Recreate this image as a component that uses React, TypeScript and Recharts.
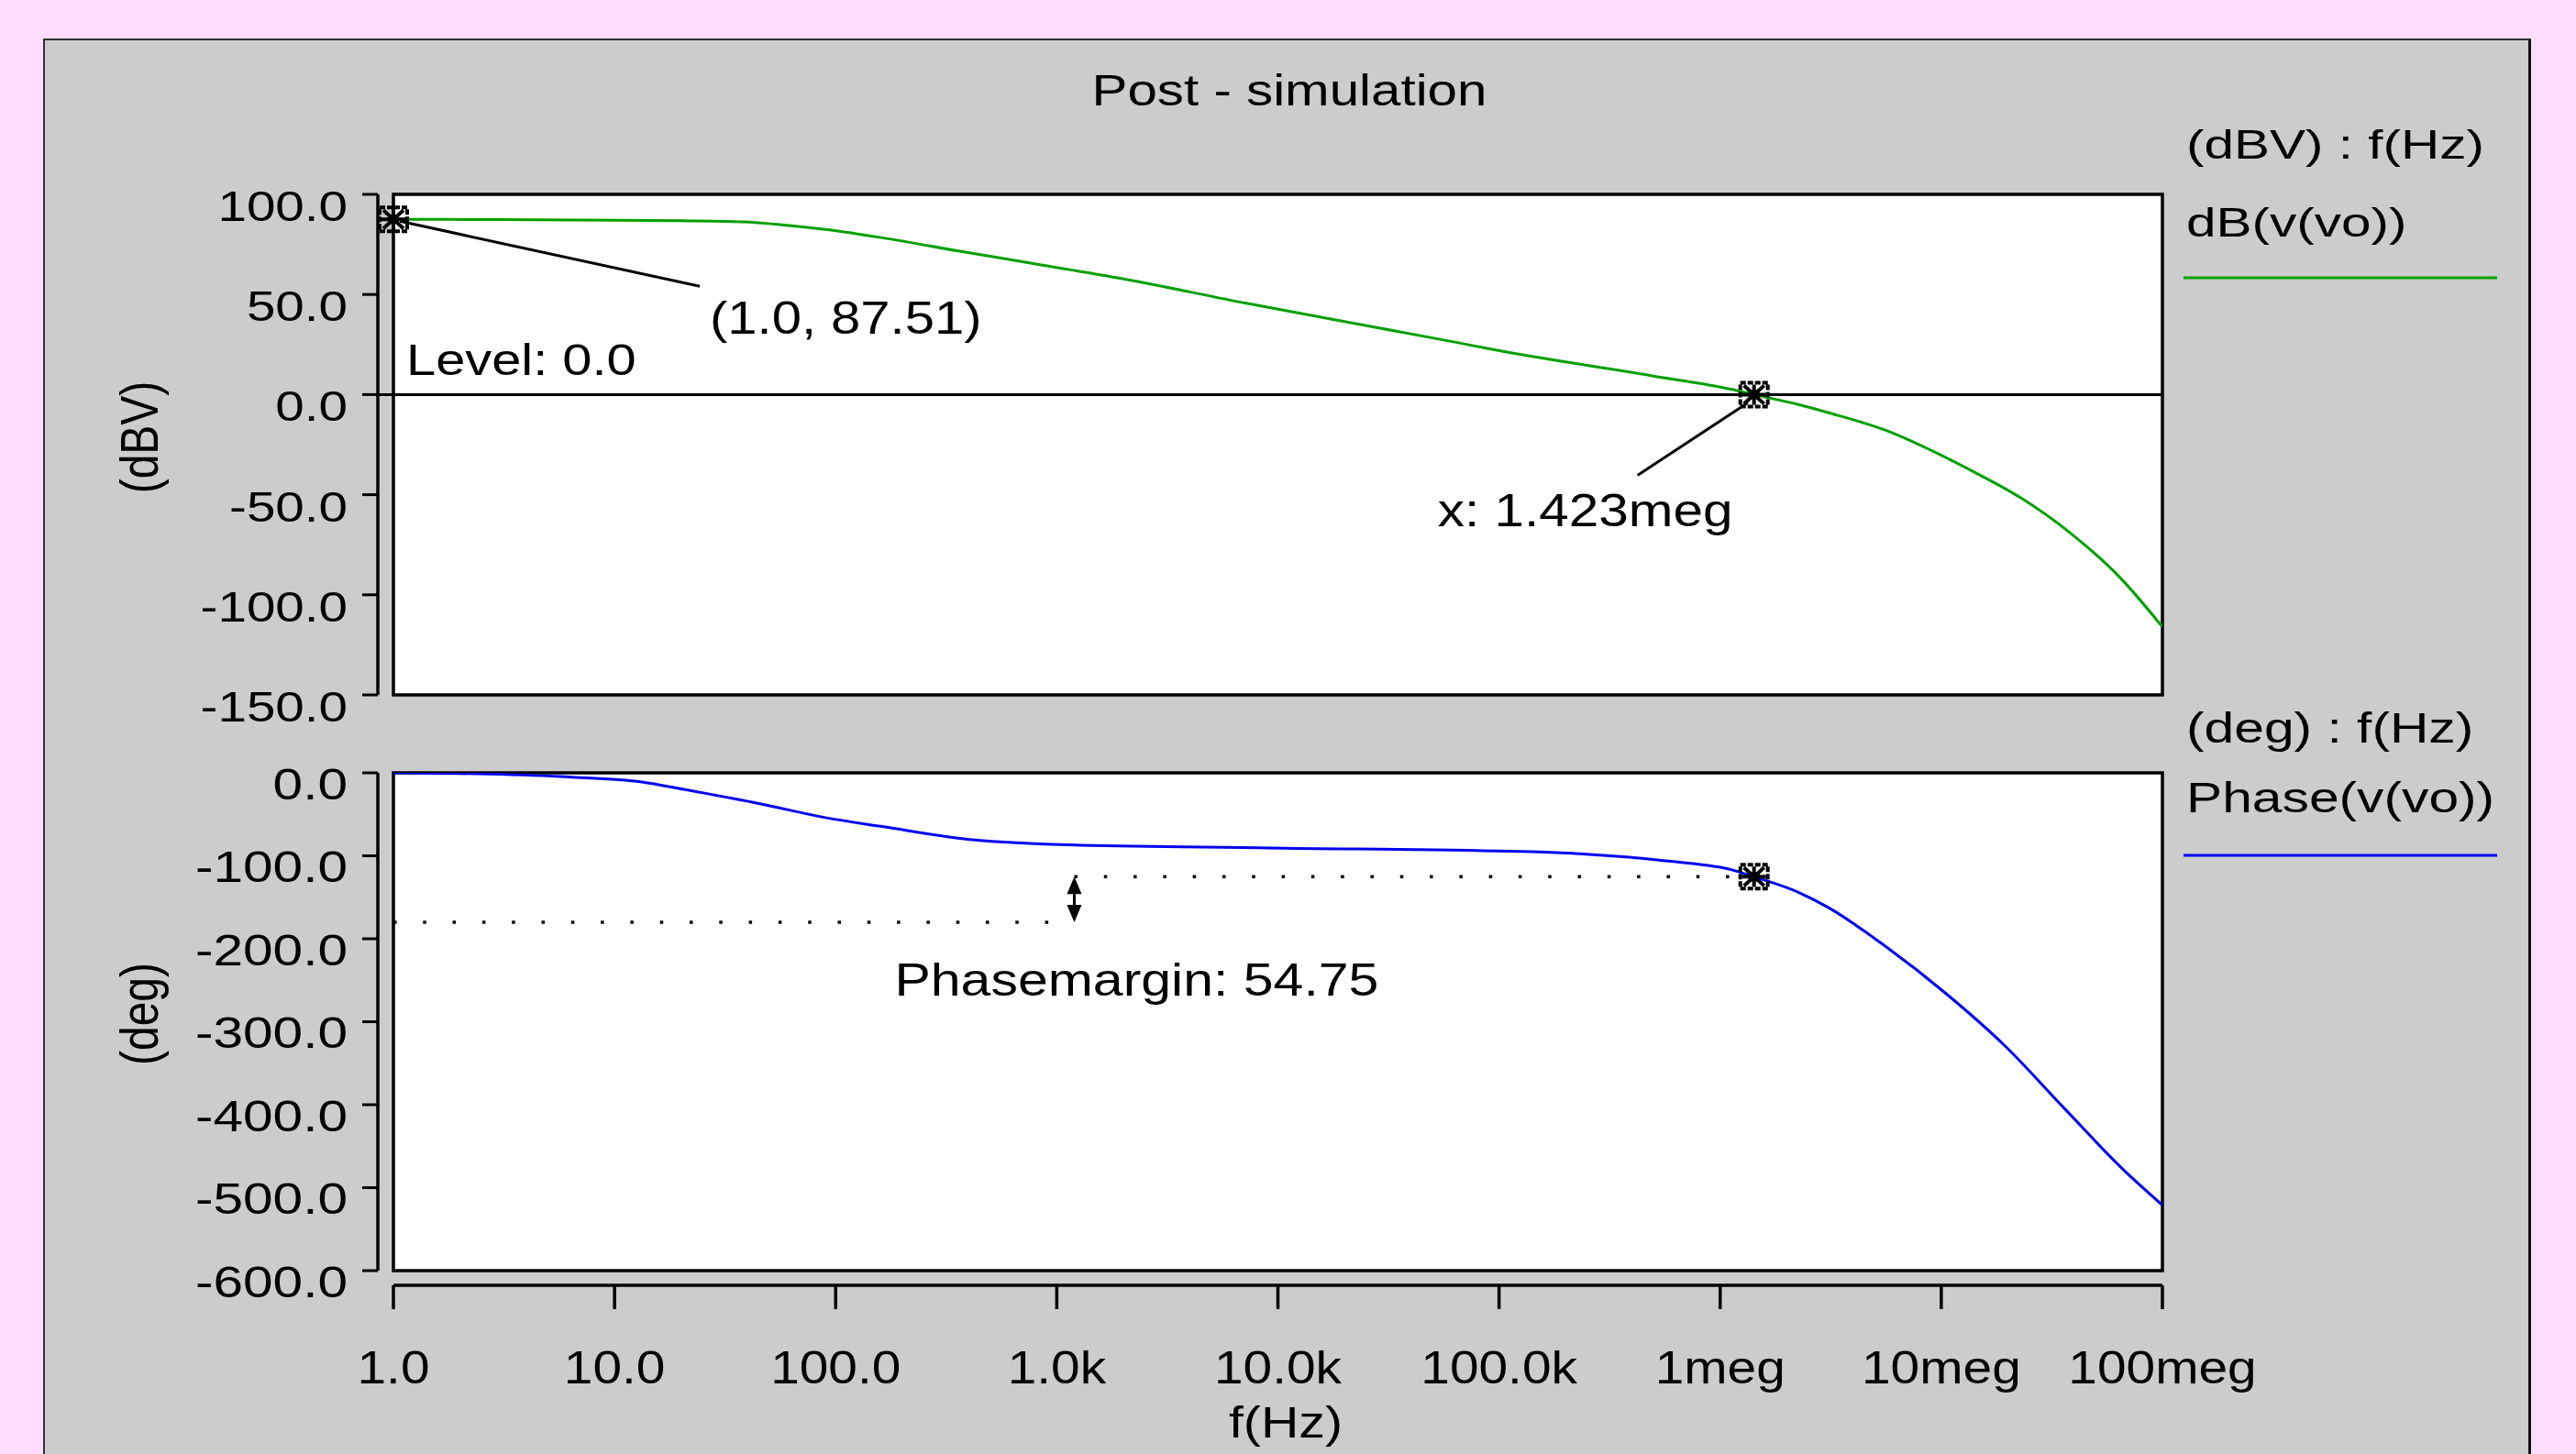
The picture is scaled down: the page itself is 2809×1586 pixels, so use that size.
import React from 'react';
import { LineChart, Line, XAxis, YAxis, ReferenceArea, ReferenceLine, ReferenceDot } from 'recharts';

const FONT = '"Liberation Sans", Arial, Helvetica, sans-serif';

// ---- data ----
const magFreq = [1, 3, 10, 20, 38, 60, 90, 165, 365, 805, 1909, 7197, 64700, 92900, 486000, 1130000, 1423000, 2260000, 3070000, 5650000, 10500000, 13700000, 22900000, 38200000, 63800000, 100000000];
const magDb = [87.51, 87.4, 87.1, 86.8, 86.3, 84.6, 82.5, 78.2, 71.6, 65.2, 58.2, 45.6, 26.0, 22.6, 9.5, 2.6, 0, -5.0, -9.0, -18, -31.5, -38, -51.6, -69, -91, -116];

const phaseFreq = [1, 2.7, 6.2, 13.3, 20.6, 45, 90, 165, 365, 1026, 9200, 127000, 247000, 615000, 1130000, 1423000, 2260000, 3070000, 5650000, 10500000, 19400000, 35900000, 66400000, 100000000];
const phaseDeg = [0, -1.5, -5, -11, -20, -37, -54, -65, -79, -86.5, -90.5, -94.8, -98, -107, -117, -125.25, -144, -162, -210, -266, -329, -404, -478, -521];

const xTicks = [1, 10, 100, 1e3, 1e4, 1e5, 1e6, 1e7, 1e8];
const xTickLabels = ['1.0', '10.0', '100.0', '1.0k', '10.0k', '100.0k', '1meg', '10meg', '100meg'];
const magTicks = [100, 50, 0, -50, -100, -150];
const phaseTicks = [0, -100, -200, -300, -400, -500, -600];

const startFreq = 1;
const dcGain = 87.51;
const levelDb = 0;
const unityFreq = 1423000;
const unityLabel = '1.423meg';
const unityPhase = -125.25;
const phaseMargin = 54.75;
const criticalPhase = -180;
const pmArrowFreq = 1200;

const magData = magFreq.map((f, i) => ({ f, db: magDb[i] }));
const phaseData = phaseFreq.map((f, i) => ({ f, deg: phaseDeg[i] }));

const GREEN = '#00A000';
const BLUE = '#0000F0';

function SText({ x, y, size, sx = 1.2, anchor = 'start', children }: any) {
  return (
    <text transform={`translate(${x},${y}) scale(${sx},1)`} x={0} y={0} fontSize={size} fontFamily={FONT} textAnchor={anchor} fill="#000">
      {children}
    </text>
  );
}

const MagTick = (p: any) => (
  <SText x={p.x} y={p.y + 29} size={46} sx={1.23} anchor="end">{Number(p.payload.value).toFixed(1)}</SText>
);
const PhaseTick = (p: any) => (
  <SText x={p.x} y={p.y + 28.5} size={48} sx={1.22} anchor="end">{Number(p.payload.value).toFixed(1)}</SText>
);
const FreqTick = (p: any) => {
  let i = xTicks.findIndex((t) => Math.abs(Math.log10(t) - Math.log10(p.payload.value)) < 1e-6);
  if (i < 0) i = p.index;
  return <SText x={p.x} y={p.y + 81} size={49} sx={1.16} anchor="middle">{xTickLabels[i]}</SText>;
};

function Glyph({ cx, cy }: any) {
  return (
    <g>
      <rect x={cx - 15} y={cy - 13} width={30} height={26} fill="none" stroke="#000" strokeWidth={4} strokeDasharray="6 2" />
      <path
        d={`M${cx - 11} ${cy - 10}L${cx + 11} ${cy + 10}M${cx - 11} ${cy + 10}L${cx + 11} ${cy - 10}M${cx - 13} ${cy}L${cx + 13} ${cy}M${cx} ${cy - 11}L${cx} ${cy + 11}`}
        stroke="#000"
        strokeWidth={4}
      />
      <rect x={cx - 6} y={cy - 5} width={12} height={10} fill="#000" />
    </g>
  );
}

const StartMarker = (p: any) => (
  <g>
    <line x1={p.cx + 7} y1={p.cy + 2} x2={p.cx + 334} y2={p.cy + 73} stroke="#000" strokeWidth={3} />
    <Glyph cx={p.cx} cy={p.cy} />
    <SText x={p.cx + 345} y={p.cy + 125} size={50} sx={1.16}>{`(${startFreq.toFixed(1)}, ${dcGain})`}</SText>
  </g>
);

const UnityMarker = (p: any) => (
  <g>
    <line x1={p.cx - 7} y1={p.cy + 9} x2={p.cx - 127} y2={p.cy + 88} stroke="#000" strokeWidth={3} />
    <Glyph cx={p.cx} cy={p.cy} />
    <SText x={p.cx - 345} y={p.cy + 144} size={50} sx={1.17}>{`x: ${unityLabel}`}</SText>
  </g>
);

const LevelLabel = (p: any) => (
  <SText x={p.cx + 14} y={p.cy - 21} size={49} sx={1.18}>{`Level: ${levelDb.toFixed(1)}`}</SText>
);

const PhaseMarker = (p: any) => <Glyph cx={p.cx} cy={p.cy} />;

const PmArrow = (p: any) => {
  const x = p.x1;
  const top = Math.min(p.y1, p.y2);
  const bot = Math.max(p.y1, p.y2);
  return (
    <g>
      <line x1={x} y1={top + 12} x2={x} y2={bot - 12} stroke="#000" strokeWidth={3} />
      <path d={`M${x} ${top}L${x - 8} ${top + 19}L${x + 8} ${top + 19}Z`} fill="#000" />
      <path d={`M${x} ${bot}L${x - 8} ${bot - 19}L${x + 8} ${bot - 19}Z`} fill="#000" />
      <SText x={x - 196} y={bot + 80} size={50} sx={1.18}>{`Phasemargin: ${phaseMargin}`}</SText>
    </g>
  );
};

const axisStroke = { stroke: '#000', strokeWidth: 3.5 };
const DOT = '3.5 28.8';

export default function App() {
  return (
    <div style={{ position: 'absolute', left: 0, top: 0, width: 2809, height: 1586, background: '#FFDDFF', overflow: 'hidden' }}>
      <div
        style={{
          position: 'absolute', left: 47, top: 42, width: 2713, height: 1600, background: '#CCCCCC',
          borderTop: '2px solid #333', borderLeft: '2px solid #333', borderRight: '3px solid #111', boxSizing: 'border-box',
        }}
      />
      {/* magnitude */}
      <div style={{ position: 'absolute', left: 0, top: 0 }}>
        <LineChart width={2809} height={830} data={magData} margin={{ top: 212, right: 451, left: 0, bottom: 72 }}>
          <XAxis dataKey="f" type="number" scale="log" domain={[1, 1e8]} hide padding={{ left: 17, right: 0 }} allowDataOverflow />
          <YAxis
            type="number" domain={[-150, 100]} ticks={magTicks} interval={0} width={412}
            tickSize={17} tickMargin={16} axisLine={axisStroke} tickLine={{ stroke: '#000', strokeWidth: 3 }}
            tick={(p: any) => <MagTick {...p} />} allowDataOverflow
          />
          <ReferenceArea x1={1} x2={1e8} y1={-150} y2={100} fill="#FFFFFF" fillOpacity={1} stroke="#000" strokeWidth={3.5} />
          <ReferenceLine y={levelDb} stroke="#000" strokeWidth={3} />
          <Line type="monotone" dataKey="db" stroke={GREEN} strokeWidth={3} dot={false} isAnimationActive={false} />
          <ReferenceDot x={startFreq} y={levelDb} r={1} shape={(p: any) => <LevelLabel {...p} />} />
          <ReferenceDot x={startFreq} y={dcGain} r={1} shape={(p: any) => <StartMarker {...p} />} />
          <ReferenceDot x={unityFreq} y={levelDb} r={1} shape={(p: any) => <UnityMarker {...p} />} />
        </LineChart>
      </div>
      {/* phase */}
      <div style={{ position: 'absolute', left: 0, top: 0 }}>
        <LineChart width={2809} height={1460} data={phaseData} margin={{ top: 843, right: 451, left: 0, bottom: 74 }}>
          <XAxis dataKey="f" type="number" scale="log" domain={[1, 1e8]} hide padding={{ left: 17, right: 0 }} allowDataOverflow />
          <YAxis
            type="number" domain={[-600, 0]} ticks={phaseTicks} interval={0} width={412}
            tickSize={17} tickMargin={16} axisLine={axisStroke} tickLine={{ stroke: '#000', strokeWidth: 3 }}
            tick={(p: any) => <PhaseTick {...p} />} allowDataOverflow
          />
          <ReferenceArea x1={1} x2={1e8} y1={-600} y2={0} fill="#FFFFFF" fillOpacity={1} stroke="#000" strokeWidth={3.5} />
          <ReferenceLine
            segment={[{ x: startFreq, y: criticalPhase }, { x: pmArrowFreq, y: criticalPhase }]}
            stroke="#000" strokeWidth={3.5} strokeDasharray={DOT}
          />
          <ReferenceLine
            segment={[{ x: pmArrowFreq, y: unityPhase }, { x: unityFreq, y: unityPhase }]}
            stroke="#000" strokeWidth={3.5} strokeDasharray={DOT}
          />
          <Line type="monotone" dataKey="deg" stroke={BLUE} strokeWidth={3} dot={false} isAnimationActive={false} />
          <ReferenceLine
            segment={[{ x: pmArrowFreq, y: criticalPhase }, { x: pmArrowFreq, y: unityPhase }]}
            shape={(p: any) => <PmArrow {...p} />}
          />
          <ReferenceDot x={unityFreq} y={unityPhase} r={1} shape={(p: any) => <PhaseMarker {...p} />} />
        </LineChart>
      </div>
      {/* frequency axis */}
      <div style={{ position: 'absolute', left: 0, top: 0 }}>
        <LineChart width={2809} height={1586} data={phaseData} margin={{ top: 1390, right: 451, left: 429, bottom: 34 }}>
          <XAxis
            dataKey="f" type="number" scale="log" domain={[1, 1e8]} ticks={xTicks} interval={0} height={150}
            tickSize={26} tickMargin={0} axisLine={axisStroke} tickLine={{ stroke: '#000', strokeWidth: 3.5 }}
            tick={(p: any) => <FreqTick {...p} />} allowDataOverflow
          />
          <YAxis hide type="number" domain={[-600, 0]} width={0} />
          <Line type="linear" dataKey="deg" stroke="#000" strokeOpacity={0} dot={false} isAnimationActive={false} />
        </LineChart>
      </div>
      {/* static texts */}
      <svg width={2809} height={1586} style={{ position: 'absolute', left: 0, top: 0, pointerEvents: 'none' }}>
        <SText x={1406} y={115} size={49} sx={1.19} anchor="middle">Post - simulation</SText>
        <SText x={2384} y={173} size={45} sx={1.3}>(dBV) : f(Hz)</SText>
        <SText x={2384} y={258} size={45} sx={1.3}>dB(v(vo))</SText>
        <line x1={2381} y1={303} x2={2723} y2={303} stroke={GREEN} strokeWidth={3} />
        <SText x={2384} y={810} size={47} sx={1.25}>(deg) : f(Hz)</SText>
        <SText x={2384} y={886} size={47} sx={1.25}>Phase(v(vo))</SText>
        <line x1={2381} y1={933} x2={2723} y2={933} stroke={BLUE} strokeWidth={3} />
        <text transform="translate(152,477) scale(1.2,1) rotate(-90)" fontSize={48} fontFamily={FONT} textAnchor="middle" dominantBaseline="central" fill="#000">(dBV)</text>
        <text transform="translate(152,1106) scale(1.2,1) rotate(-90)" fontSize={48} fontFamily={FONT} textAnchor="middle" dominantBaseline="central" fill="#000">(deg)</text>
        <SText x={1402} y={1568} size={49} sx={1.17} anchor="middle">f(Hz)</SText>
      </svg>
    </div>
  );
}
